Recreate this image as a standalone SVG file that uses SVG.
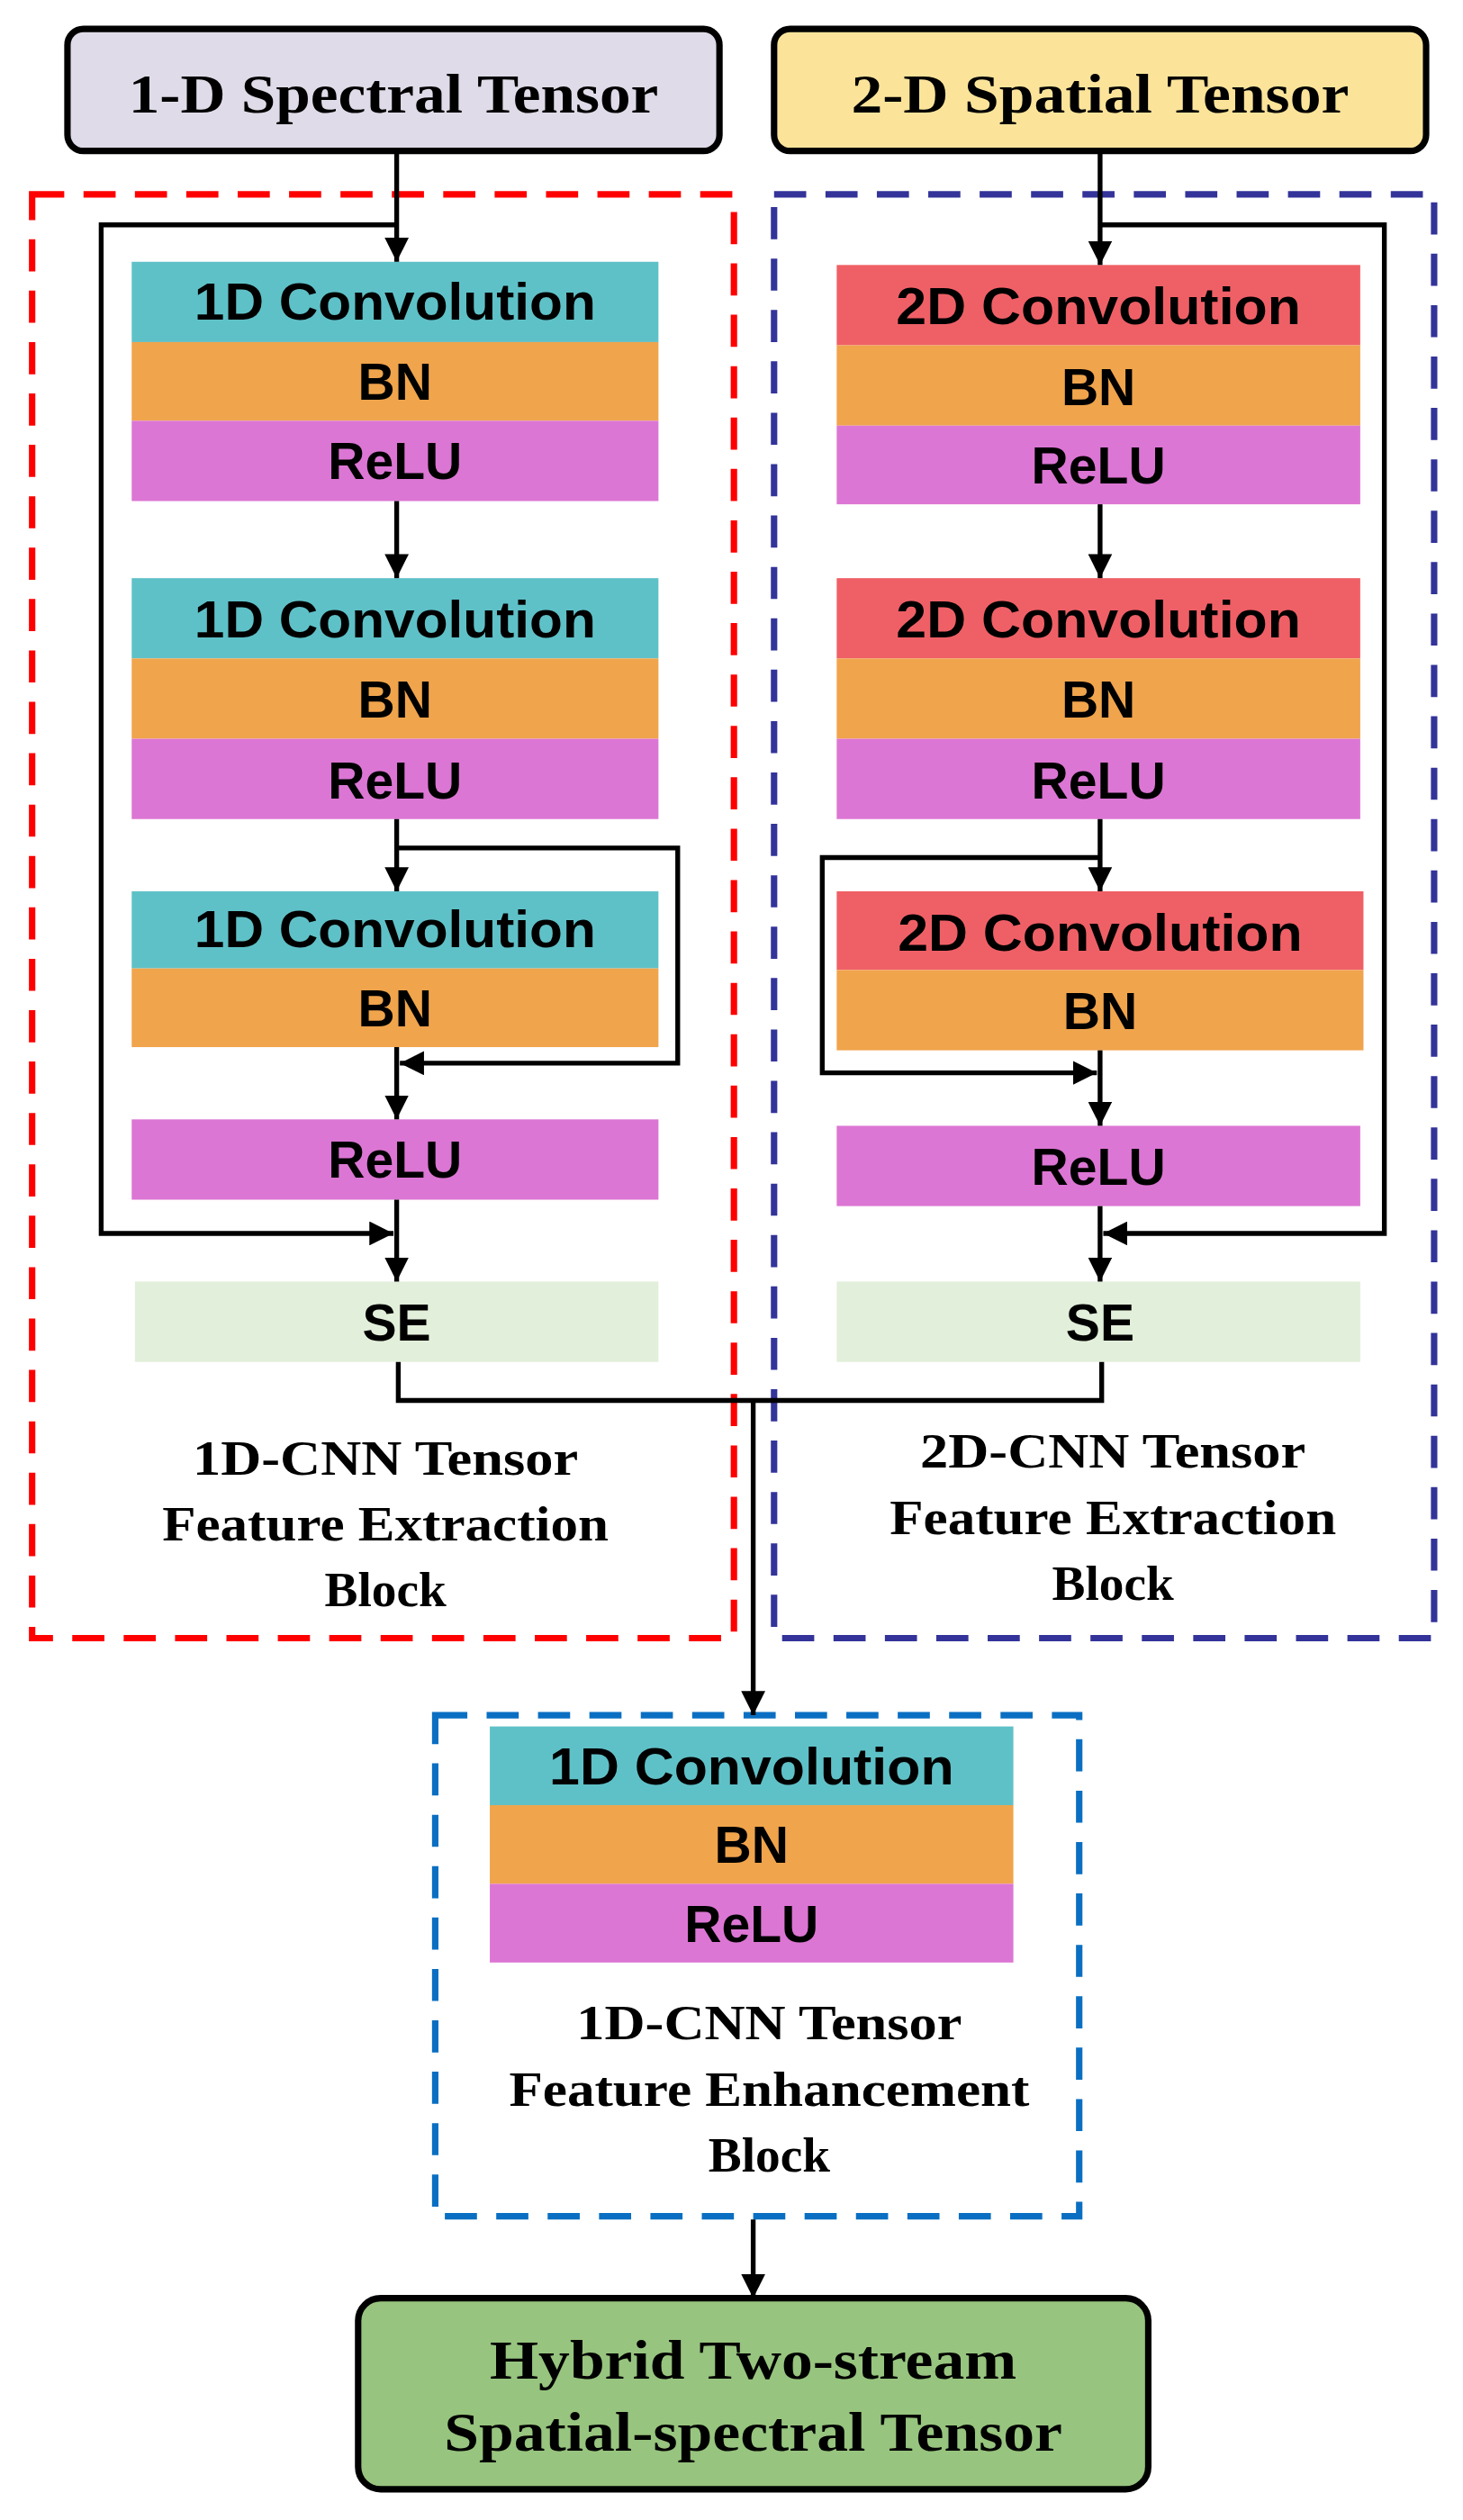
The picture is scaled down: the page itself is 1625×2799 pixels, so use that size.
<svg xmlns="http://www.w3.org/2000/svg" width="1625" height="2799" viewBox="0 0 1625 2799">
<style>
.ser{font-family:"Liberation Serif","Times New Roman",serif;font-weight:bold;fill:#000;text-anchor:middle}
.san{font-family:"Liberation Sans",Arial,sans-serif;font-weight:bold;fill:#000;text-anchor:middle;font-size:32px}
.ln{fill:none;stroke:#000;stroke-width:3}
.cv1{fill:#5fc1c8}.cv2{fill:#ef6066}.bn{fill:#f0a44c}.re{fill:#dc76d4}.se{fill:#e2efda}
</style>
<defs>
<marker id="ar" viewBox="0 0 10 10" refX="10" refY="5" markerWidth="5" markerHeight="5" orient="auto" markerUnits="strokeWidth"><path d="M0,0L10,5L0,10z" fill="#000"/></marker>
</defs>
<rect width="1625" height="2799" fill="#fff"/>
<g transform="scale(1.7838)">
<g id="containers">
<rect x="20" y="121" width="437" height="899" fill="none" stroke="#f00" stroke-width="4" stroke-dasharray="20,12"/>
<rect x="482" y="121" width="411" height="899" fill="none" stroke="#33339a" stroke-width="4" stroke-dasharray="20,12"/>
<rect x="271" y="1068" width="401" height="312" fill="none" stroke="#0a6fc2" stroke-width="4" stroke-dasharray="20,12"/>
</g>
<g id="in1"><rect x="42" y="18" width="406" height="76" rx="10" fill="#e0dbe8" stroke="#000" stroke-width="4"/><text class="ser" x="245" y="70" font-size="34" textLength="330" lengthAdjust="spacingAndGlyphs">1-D Spectral Tensor</text></g>
<g id="in2"><rect x="482" y="18" width="406" height="76" rx="10" fill="#fbe49a" stroke="#000" stroke-width="4"/><text class="ser" x="685" y="70" font-size="34" textLength="310" lengthAdjust="spacingAndGlyphs">2-D Spatial Tensor</text></g>

<g id="L1"><rect class="cv1" x="82" y="163" width="328" height="50"/><rect class="bn" x="82" y="213" width="328" height="49"/><rect class="re" x="82" y="262" width="328" height="50"/>
<text class="san" x="246" y="199" textLength="250" lengthAdjust="spacingAndGlyphs">1D Convolution</text><text class="san" x="246" y="249">BN</text><text class="san" x="246" y="298">ReLU</text></g>
<g id="L2"><rect class="cv1" x="82" y="360" width="328" height="50"/><rect class="bn" x="82" y="410" width="328" height="50"/><rect class="re" x="82" y="460" width="328" height="50"/>
<text class="san" x="246" y="397" textLength="250" lengthAdjust="spacingAndGlyphs">1D Convolution</text><text class="san" x="246" y="447">BN</text><text class="san" x="246" y="497">ReLU</text></g>
<g id="L3"><rect class="cv1" x="82" y="555" width="328" height="48"/><rect class="bn" x="82" y="603" width="328" height="49"/>
<text class="san" x="246" y="590" textLength="250" lengthAdjust="spacingAndGlyphs">1D Convolution</text><text class="san" x="246" y="639">BN</text></g>
<g id="L4"><rect class="re" x="82" y="697" width="328" height="50"/><text class="san" x="246" y="733">ReLU</text></g>
<g id="L5"><rect class="se" x="84" y="798" width="326" height="50"/><text class="san" x="247" y="835">SE</text></g>

<g id="R1"><rect class="cv2" x="521" y="165" width="326" height="50"/><rect class="bn" x="521" y="215" width="326" height="50"/><rect class="re" x="521" y="265" width="326" height="49"/>
<text class="san" x="684" y="202" textLength="252" lengthAdjust="spacingAndGlyphs">2D Convolution</text><text class="san" x="684" y="252">BN</text><text class="san" x="684" y="301">ReLU</text></g>
<g id="R2"><rect class="cv2" x="521" y="360" width="326" height="50"/><rect class="bn" x="521" y="410" width="326" height="50"/><rect class="re" x="521" y="460" width="326" height="50"/>
<text class="san" x="684" y="397" textLength="252" lengthAdjust="spacingAndGlyphs">2D Convolution</text><text class="san" x="684" y="447">BN</text><text class="san" x="684" y="497">ReLU</text></g>
<g id="R3"><rect class="cv2" x="521" y="555" width="328" height="49"/><rect class="bn" x="521" y="604" width="328" height="50"/>
<text class="san" x="685" y="592" textLength="252" lengthAdjust="spacingAndGlyphs">2D Convolution</text><text class="san" x="685" y="641">BN</text></g>
<g id="R4"><rect class="re" x="521" y="701" width="326" height="50"/><text class="san" x="684" y="738">ReLU</text></g>
<g id="R5"><rect class="se" x="521" y="798" width="326" height="50"/><text class="san" x="685" y="835">SE</text></g>

<g id="E1"><rect class="cv1" x="305" y="1075" width="326" height="49"/><rect class="bn" x="305" y="1124" width="326" height="49"/><rect class="re" x="305" y="1173" width="326" height="49"/>
<text class="san" x="468" y="1111" textLength="252" lengthAdjust="spacingAndGlyphs">1D Convolution</text><text class="san" x="468" y="1160">BN</text><text class="san" x="468" y="1209">ReLU</text></g>

<g id="out"><rect x="223" y="1431" width="492" height="119" rx="14" fill="#97c47e" stroke="#000" stroke-width="4"/>
<text class="ser" x="469" y="1481" font-size="34" textLength="328" lengthAdjust="spacingAndGlyphs">Hybrid Two-stream</text>
<text class="ser" x="469" y="1526" font-size="34" textLength="385" lengthAdjust="spacingAndGlyphs">Spatial-spectral Tensor</text></g>

<g id="labels">
<text class="ser" x="240" y="918" font-size="31" textLength="240" lengthAdjust="spacingAndGlyphs">1D-CNN Tensor</text>
<text class="ser" x="240" y="959" font-size="31" textLength="278" lengthAdjust="spacingAndGlyphs">Feature Extraction</text>
<text class="ser" x="240" y="1000" font-size="31">Block</text>
<text class="ser" x="693" y="914" font-size="31" textLength="240" lengthAdjust="spacingAndGlyphs">2D-CNN Tensor</text>
<text class="ser" x="693" y="955" font-size="31" textLength="278" lengthAdjust="spacingAndGlyphs">Feature Extraction</text>
<text class="ser" x="693" y="996" font-size="31">Block</text>
<text class="ser" x="479" y="1270" font-size="31" textLength="240" lengthAdjust="spacingAndGlyphs">1D-CNN Tensor</text>
<text class="ser" x="479" y="1311" font-size="31" textLength="324" lengthAdjust="spacingAndGlyphs">Feature Enhancement</text>
<text class="ser" x="479" y="1352" font-size="31">Block</text>
</g>

<g id="connectors">
<path class="ln" d="M247,94V163" marker-end="url(#ar)"/>
<path class="ln" d="M247,140H63V768H245" marker-end="url(#ar)"/>
<path class="ln" d="M247,312V360" marker-end="url(#ar)"/>
<path class="ln" d="M247,510V555" marker-end="url(#ar)"/>
<path class="ln" d="M247,528H422V662H249" marker-end="url(#ar)"/>
<path class="ln" d="M247,652V697" marker-end="url(#ar)"/>
<path class="ln" d="M247,747V798" marker-end="url(#ar)"/>
<path class="ln" d="M685,94V165" marker-end="url(#ar)"/>
<path class="ln" d="M685,140H862V768H687" marker-end="url(#ar)"/>
<path class="ln" d="M685,314V360" marker-end="url(#ar)"/>
<path class="ln" d="M685,510V555" marker-end="url(#ar)"/>
<path class="ln" d="M685,534H512V668H683" marker-end="url(#ar)"/>
<path class="ln" d="M685,654V701" marker-end="url(#ar)"/>
<path class="ln" d="M685,751V798" marker-end="url(#ar)"/>
<path class="ln" d="M248,848V872H686V848"/>
<path class="ln" d="M469,872V1068" marker-end="url(#ar)"/>
<path class="ln" d="M469,1382V1431" marker-end="url(#ar)"/>
</g>
</g>
</svg>
